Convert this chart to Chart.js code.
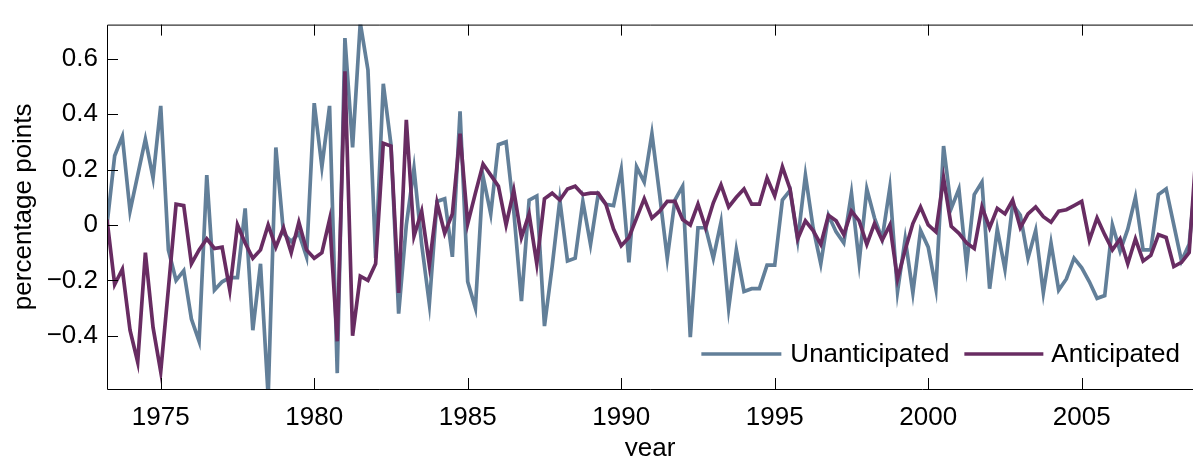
<!DOCTYPE html>
<html>
<head>
<meta charset="utf-8">
<script src="https://cdn.jsdelivr.net/npm/chart.js@4.4.1/dist/chart.umd.min.js"></script>
<style>
html,body{margin:0;padding:0;background:#fff;overflow:hidden;}
#wrap{width:1193px;height:456px;overflow:hidden;position:relative;}
canvas{display:block;}
</style>
</head>
<body>
<div id="wrap"><canvas id="c" width="1193" height="470"></canvas></div>
<script>
// Quarterly series, first quarter = 1973.25
const unanticipated = [
  0.0, 0.25, 0.32, 0.05, 0.18, 0.31, 0.17, 0.43, -0.09, -0.20,
  -0.165, -0.34, -0.42, 0.18, -0.235, -0.205, -0.19, -0.19, 0.06, -0.38,
  -0.14, -0.62, 0.28, -0.03, -0.06, -0.03, -0.115, 0.44, 0.21, 0.43,
  -0.535, 0.675, 0.28, 0.73, 0.56, -0.12, 0.51, 0.29, -0.32, 0.0,
  0.205, -0.07, -0.285, 0.085, 0.095, -0.115, 0.41, -0.205, -0.30, 0.175,
  0.04, 0.29, 0.30, 0.05, -0.275, 0.09, 0.105, -0.365, -0.15, 0.09,
  -0.13, -0.12, 0.085, -0.07, 0.11, 0.075, 0.07, 0.20, -0.135, 0.21,
  0.155, 0.33, 0.11, -0.12, 0.09, 0.14, -0.405, -0.01, -0.01, -0.12,
  0.01, -0.30, -0.09, -0.24, -0.23, -0.23, -0.145, -0.145, 0.09, 0.125,
  -0.055, 0.18, -0.01, -0.14, 0.035, -0.025, -0.065, 0.115, -0.135, 0.13,
  0.025, -0.05, 0.135, -0.24, -0.05, -0.245, -0.02, -0.08, -0.23, 0.285,
  0.06, 0.13, -0.145, 0.11, 0.155, -0.23, -0.015, -0.16, 0.075, 0.035,
  -0.12, -0.02, -0.245, -0.065, -0.235, -0.195, -0.12, -0.155, -0.205, -0.265,
  -0.255, 0.0, -0.095, -0.015, 0.10, -0.09, -0.09, 0.11, 0.13, 0.0,
  -0.13, -0.07, 0.22
];
const anticipated = [
  0.02, -0.215, -0.16, -0.38, -0.495, -0.10, -0.37, -0.53, -0.23, 0.075,
  0.07, -0.14, -0.09, -0.05, -0.085, -0.08, -0.235, 0.0, -0.065, -0.12,
  -0.09, 0.0, -0.08, -0.01, -0.10, 0.01, -0.09, -0.12, -0.10, 0.02,
  -0.42, 0.555, -0.40, -0.185, -0.20, -0.14, 0.295, 0.285, -0.245, 0.38,
  -0.04, 0.05, -0.145, 0.08, -0.03, 0.04, 0.33, 0.005, 0.115, 0.22,
  0.18, 0.14, 0.0, 0.125, -0.045, 0.04, -0.14, 0.095, 0.115, 0.09,
  0.13, 0.14, 0.11, 0.115, 0.115, 0.075, -0.015, -0.075, -0.045, 0.025,
  0.095, 0.025, 0.05, 0.085, 0.085, 0.02, 0.0, 0.075, -0.01, 0.08,
  0.145, 0.065, 0.10, 0.13, 0.075, 0.075, 0.17, 0.105, 0.21, 0.13,
  -0.05, 0.015, -0.02, -0.07, 0.035, 0.015, -0.035, 0.05, 0.015, -0.07,
  0.005, -0.055, 0.0, -0.195, -0.09, 0.005, 0.065, 0.0, -0.025, 0.17,
  -0.005, -0.03, -0.065, -0.085, 0.065, -0.01, 0.06, 0.04, 0.09, -0.01,
  0.04, 0.065, 0.03, 0.01, 0.05, 0.055, 0.07, 0.085, -0.055, 0.025,
  -0.035, -0.09, -0.05, -0.14, -0.05, -0.13, -0.11, -0.035, -0.045, -0.15,
  -0.135, -0.10, 0.30
];
const firstQuarter = 1973.25;
const quarters = unanticipated.map((_, i) => firstQuarter + i * 0.25);
const yearTicks = [1975, 1980, 1985, 1990, 1995, 2000, 2005];
const valueTicks = [-0.4, -0.2, 0, 0.2, 0.4, 0.6];
const seriesNames = ['Unanticipated', 'Anticipated'];
const seriesColors = ['#627f99', '#682c62'];

const FONT = "'Liberation Sans', Arial, Helvetica, sans-serif";

const frameAndLegend = {
  id: 'frameAndLegend',
  afterDatasetsDraw(chart) {
    const {ctx, chartArea: a, scales: {x, y}} = chart;
    ctx.save();
    ctx.strokeStyle = '#000';
    ctx.lineWidth = 1;
    ctx.beginPath();
    ctx.moveTo(a.right + 2, a.top + 0.5);
    ctx.lineTo(a.left + 0.5, a.top + 0.5);
    ctx.lineTo(a.left + 0.5, a.bottom + 0.5);
    ctx.lineTo(a.right + 2, a.bottom + 0.5);
    yearTicks.forEach(v => {
      const px = Math.round(x.getPixelForValue(v)) + 0.5;
      ctx.moveTo(px, a.bottom); ctx.lineTo(px, a.bottom - 11);
      ctx.moveTo(px, a.top); ctx.lineTo(px, a.top + 11);
    });
    valueTicks.forEach(v => {
      const py = Math.round(y.getPixelForValue(v)) + 0.5;
      ctx.moveTo(a.left, py); ctx.lineTo(a.left + 11, py);
    });
    ctx.stroke();

    // legend inside plot, lower right
    const ds = chart.data.datasets;
    const byName = n => ds.find(d => d.label === n);
    ctx.font = '26px ' + FONT;
    ctx.textBaseline = 'middle';
    ctx.textAlign = 'left';
    ctx.fillStyle = '#000';
    const ly = a.bottom - 35;
    const w1 = ctx.measureText(seriesNames[0]).width;
    const w2 = ctx.measureText(seriesNames[1]).width;
    const t2 = a.right - 13 - w2;
    const l2e = t2 - 8, l2s = l2e - 79;
    const t1 = l2s - 15 - w1;
    const l1e = t1 - 9, l1s = l1e - 80;
    const items = [[seriesNames[0], l1s, l1e, t1], [seriesNames[1], l2s, l2e, t2]];
    items.forEach(([name, s, e, t]) => {
      const d = byName(name);
      ctx.strokeStyle = d.borderColor;
      ctx.lineWidth = d.borderWidth;
      ctx.beginPath();
      ctx.moveTo(s, ly); ctx.lineTo(e, ly);
      ctx.stroke();
      ctx.fillText(name, t, ly + 1);
    });
    ctx.restore();
  }
};

new Chart(document.getElementById('c'), {
  type: 'line',
  data: {
    datasets: [
      {
        label: seriesNames[0],
        data: quarters.map((q, i) => ({x: q, y: unanticipated[i]})),
        borderColor: seriesColors[0],
        borderWidth: 3.7,
        pointRadius: 0,
        tension: 0,
        order: 1
      },
      {
        label: seriesNames[1],
        data: quarters.map((q, i) => ({x: q, y: anticipated[i]})),
        borderColor: seriesColors[1],
        borderWidth: 3.7,
        pointRadius: 0,
        tension: 0,
        order: 0
      }
    ]
  },
  options: {
    responsive: false,
    animation: false,
    devicePixelRatio: 1,
    layout: {padding: {left: 0, right: 0, top: 12, bottom: 0}},
    plugins: {legend: {display: false}, tooltip: {enabled: false}},
    scales: {
      x: {
        type: 'linear',
        min: 1973.25,
        max: 2008.625,
        grid: {display: false, drawTicks: false},
        border: {display: false},
        afterBuildTicks: s => { s.ticks = yearTicks.map(v => ({value: v})); },
        afterFit: s => { s.height = 81; },
        ticks: {
          padding: 13,
          maxRotation: 0,
          autoSkip: false,
          color: '#000',
          font: {family: FONT, size: 26},
          callback: v => String(v)
        },
        title: {
          display: true,
          text: 'year',
          color: '#000',
          font: {family: FONT, size: 26},
          padding: {top: 0, bottom: 6}
        }
      },
      y: {
        type: 'linear',
        min: -0.5923,
        max: 0.7236,
        grid: {display: false, drawTicks: false},
        border: {display: false},
        afterBuildTicks: s => { s.ticks = valueTicks.map(v => ({value: v})); },
        afterFit: s => { s.width = 107; },
        ticks: {
          padding: 9,
          autoSkip: false,
          color: '#000',
          font: {family: FONT, size: 26},
          callback: v => (v < 0 ? '\u2212' + String(Math.abs(v)) : String(v))
        },
        title: {
          display: true,
          text: 'percentage points',
          color: '#000',
          font: {family: FONT, size: 26},
          padding: {top: 8, bottom: 0}
        }
      }
    }
  },
  plugins: [frameAndLegend]
});
</script>
</body>
</html>
